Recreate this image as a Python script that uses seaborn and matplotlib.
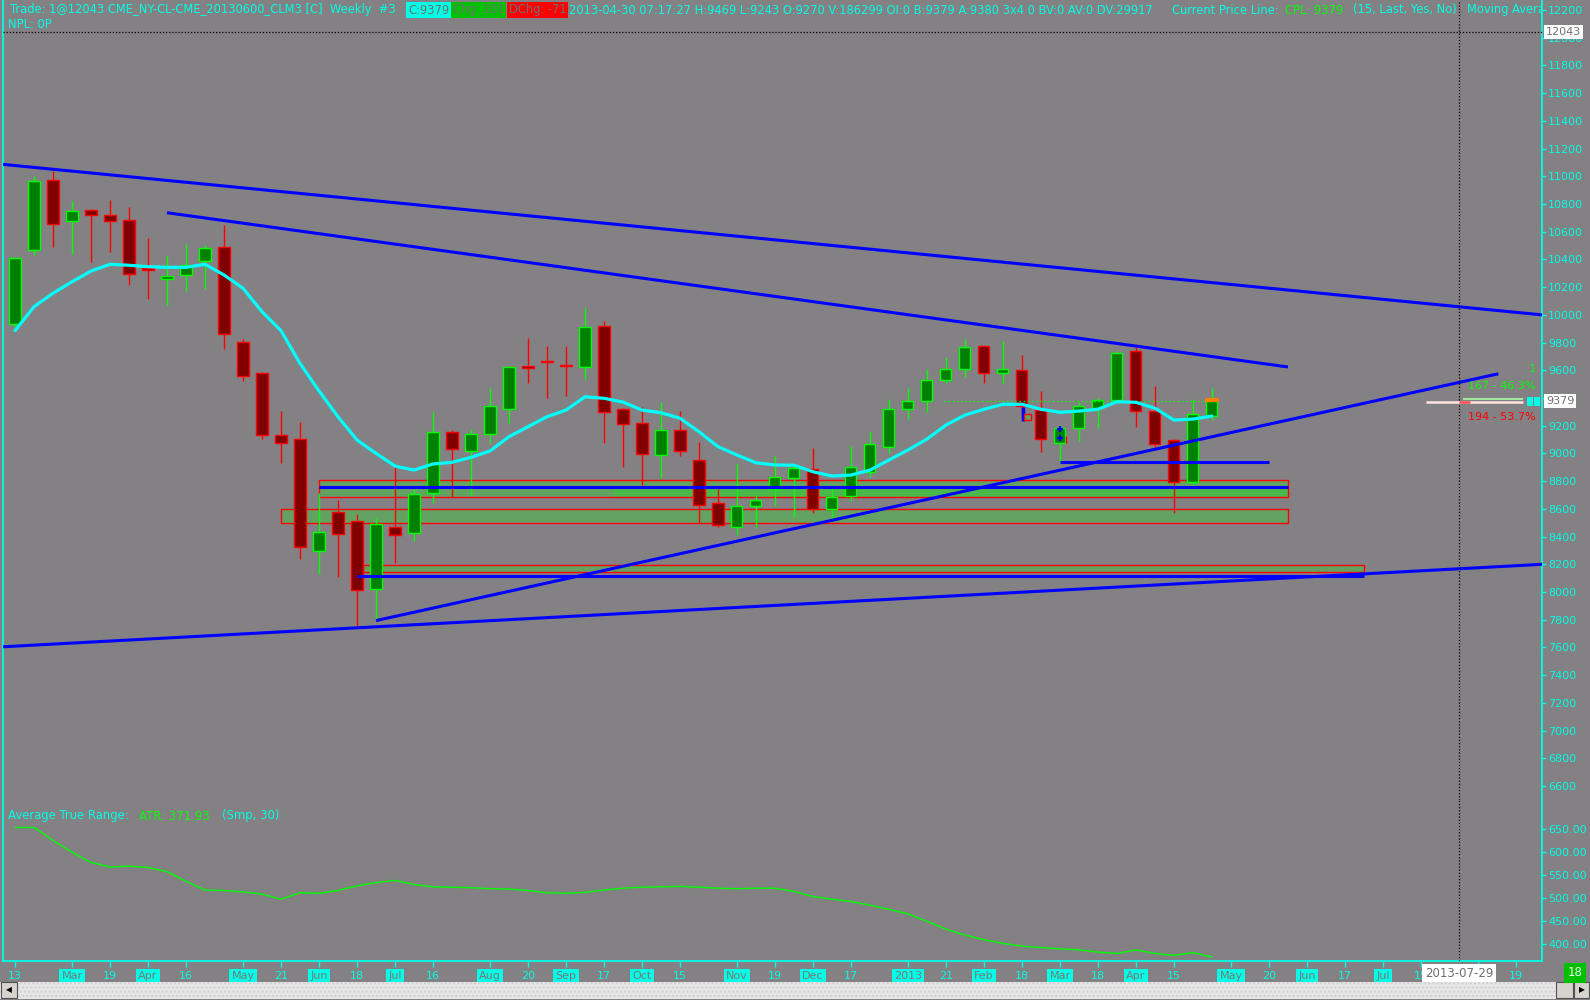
import numpy as np
import pandas as pd
import matplotlib
matplotlib.use('Agg')
import matplotlib.pyplot as plt
import matplotlib.patches as mpatches
import matplotlib.transforms as mtransforms
from matplotlib.ticker import FormatStrFormatter
import seaborn as sns

# ---- data: weekly CLM3 bars (price in 1/100 $), first bar = week of 2012-02-13
week_start = '2012-02-13'
opens = [9932, 10466, 10971, 10675, 10755, 10719, 10682, 10335, 10257, 10286,
         10387, 10492, 9806, 9578, 9131, 9102, 8294, 8575, 8510, 8020,
         8467, 8424, 8712, 9157, 9016, 9138, 9323, 9633, 9667, 9638,
         9626, 9918, 9319, 9218, 8987, 9167, 8951, 8640, 8467, 8619,
         8741, 8821, 8886, 8597, 8691, 8864, 9044, 9319, 9376, 9528,
         9607, 9773, 9578, 9600, 9314, 9073, 9182, 9326, 9386, 9737,
         9304, 9095, 8796, 9270]
highs = [10420, 11002, 11038, 10820, 10762, 10829, 10778, 10555, 10425, 10511,
         10504, 10649, 9825, 9588, 9306, 9227, 8712, 8664, 8563, 8532,
         8900, 8741, 9297, 9169, 9176, 9472, 9631, 9833, 9775, 9775,
         10050, 9956, 9330, 9333, 9371, 9306, 9083, 8746, 8924, 8698,
         8982, 8917, 9039, 8770, 9054, 9153, 9393, 9472, 9609, 9694,
         9824, 9783, 9809, 9710, 9451, 9205, 9372, 9401, 9740, 9771,
         9487, 9105, 9393, 9469]
lows = [9915, 10434, 10492, 10441, 10384, 10456, 10218, 10117, 10073, 10174,
        10189, 9756, 9525, 9102, 8933, 8236, 8128, 8111, 7757, 7794,
        8212, 8370, 8645, 8684, 8698, 9073, 9210, 9511, 9402, 9417,
        9539, 9073, 8900, 8772, 8825, 8984, 8498, 8471, 8409, 8464,
        8623, 8544, 8573, 8525, 8655, 8828, 9005, 9251, 9301, 9506,
        9554, 9511, 9506, 9241, 9013, 8936, 9092, 9182, 9374, 9193,
        9037, 8568, 8772, 9243]
closes = [10408, 10964, 10654, 10747, 10719, 10675, 10293, 10325, 10283, 10362,
          10480, 9862, 9559, 9131, 9073, 8323, 8431, 8417, 8013, 8489,
          8409, 8705, 9157, 9030, 9138, 9340, 9622, 9615, 9658, 9628,
          9910, 9297, 9210, 8994, 9167, 9016, 8626, 8482, 8619, 8662,
          8828, 8893, 8597, 8684, 8900, 9066, 9319, 9376, 9528, 9607,
          9766, 9578, 9607, 9342, 9102, 9186, 9345, 9384, 9723, 9304,
          9066, 8796, 9283, 9379]
moving_avg = [9886, 10059, 10156, 10239, 10316, 10365, 10358, 10348, 10343, 10343,
              10365, 10288, 10192, 10023, 9886, 9650, 9451, 9265, 9097, 9001,
              8909, 8880, 8924, 8936, 8972, 9018, 9121, 9193, 9265, 9313,
              9409, 9398, 9371, 9313, 9294, 9254, 9157, 9049, 8989, 8933,
              8917, 8915, 8868, 8837, 8844, 8880, 8953, 9025, 9104, 9205,
              9277, 9319, 9355, 9355, 9319, 9297, 9306, 9319, 9373, 9369,
              9326, 9241, 9248, 9270]
atr = [654, 654, 626, 600, 578, 568, 570, 567, 558, 537,
       518, 517, 514, 509, 498, 512, 511, 517, 527, 534,
       539, 530, 525, 524, 523, 521, 520, 517, 512, 511,
       513, 518, 522, 524, 525, 526, 524, 522, 521, 522,
       522, 515, 504, 498, 493, 485, 476, 466, 450, 433,
       420, 410, 402, 396, 393, 390, 388, 383, 380, 388,
       380, 376, 382, 372]

tick_dates = ['2012-02-13', '2012-03-05', '2012-03-19', '2012-04-02', '2012-04-16',
              '2012-05-07', '2012-05-21', '2012-06-04', '2012-06-18', '2012-07-02',
              '2012-07-16', '2012-08-06', '2012-08-20', '2012-09-03', '2012-09-17',
              '2012-10-01', '2012-10-15', '2012-11-05', '2012-11-19', '2012-12-03',
              '2012-12-17', '2013-01-07', '2013-01-21', '2013-02-04', '2013-02-18',
              '2013-03-04', '2013-03-18', '2013-04-01', '2013-04-15', '2013-05-06',
              '2013-05-20', '2013-06-03', '2013-06-17', '2013-07-01', '2013-07-15',
              '2013-08-05', '2013-08-19']
tick_labels = ['13', 'Mar', '19', 'Apr', '16', 'May', '21', 'Jun', '18', 'Jul',
               '16', 'Aug', '20', 'Sep', '17', 'Oct', '15', 'Nov', '19', 'Dec',
               '17', '2013', '21', 'Feb', '18', 'Mar', '18', 'Apr', '15', 'May',
               '20', 'Jun', '17', 'Jul', '15', 'Aug', '19']

# drawn trend lines: (week0, price0, week1, price1)
trend_lines = [(-0.63, 11086, 80.37, 10000),
               (8.0, 10737, 67.0, 9624),
               (19.0, 7794, 78.07, 9575),
               (-0.63, 7605, 80.37, 8200),
               (16.0, 8756, 67.0, 8756),
               (18.0, 8116, 71.0, 8116),
               (55.0, 8936, 66.0, 8936)]
# support zones: (week0, week1, low, high)
zones = [(16.0, 67.0, 8684, 8806),
         (14.0, 67.0, 8496, 8597),
         (18.3, 71.0, 8142, 8193)]
trade_price = 12043
cursor_date = '2013-07-29'

# ---- style
BG = '#838183'
CY = '#00ffe6'
sns.set_style('dark', rc={'axes.facecolor': BG, 'figure.facecolor': BG})
plt.rcParams['font.family'] = ['DejaVu Sans']

fig = plt.figure(figsize=(15.9, 10), dpi=100)
W, H = 1590.0, 1000.0
L, R = 3, 1542
ax = fig.add_axes([L / W, 1 - 800 / H, (R - L) / W, 800 / H])
ax2 = fig.add_axes([L / W, 1 - 961 / H, (R - L) / W, 161 / H], sharex=ax)

x = np.arange(len(opens))
o, h, l, c = map(np.array, (opens, highs, lows, closes))
up = c >= o
face = np.where(up, '#008000', '#800000')
edge = np.where(up, '#00ff00', '#ff0000')

for lo_w, hi_w, lo, hi in zones:
    ax.add_patch(mpatches.Rectangle((lo_w, lo), hi_w - lo_w, hi - lo,
                                    facecolor='#64a264', edgecolor='none', zorder=1))
ax.add_patch(mpatches.Rectangle((31.5, 8688), 35.5, 8756 - 8688,
                                facecolor='#4bb84b', edgecolor='none', zorder=1.1))
for lo_w, hi_w, lo, hi in zones:
    ax.add_patch(mpatches.Rectangle((lo_w, lo), hi_w - lo_w, hi - lo,
                                    fill=False, edgecolor='#ff0000', lw=1, zorder=1.2))

ax.vlines(x, l, h, colors=edge, lw=1, zorder=3)
ax.bar(x, np.maximum(np.abs(c - o), 8), bottom=np.minimum(o, c), width=0.58,
       color=face, edgecolor=edge, linewidth=1, zorder=4)

sns.lineplot(x=x, y=moving_avg, ax=ax, color='#00ffff', lw=2.3, zorder=6)

for x0, p0, x1, p1 in trend_lines:
    ax.plot([x0, x1], [p0, p1], color='#0000ff', lw=2.2, zorder=7,
            solid_capstyle='butt')

# current price line, last-bar marker
ax.hlines(c[-1], 48.9, 63.3, colors='#00ff00', linestyles=(0, (1, 2)), lw=1, zorder=5)
ax.hlines(c[-1] + 6, 62.65, 63.35, colors='#ff8000', lw=3, zorder=9)
# small order markers around week 53-55
ax.vlines(53.05, 9237, 9337, colors='#0000ff', lw=2.5, zorder=8)
ax.add_patch(mpatches.Rectangle((53.1, 9240), 0.35, 45, facecolor='#64a264',
                                edgecolor='#ff0000', lw=1, zorder=8))
ax.plot([55, 55], [9174, 9109], ls='none', marker='+', color='#0000ff', ms=5, mew=1.5, zorder=8)
ax.vlines(55.3, 9078, 9126, colors='#ff0000', lw=1, zorder=8)

ax.axhline(trade_price, color='black', ls=(0, (1, 1.5)), lw=0.9, zorder=8)
cursor_x = (pd.Timestamp(cursor_date) - pd.Timestamp(week_start)).days / 7
for a in (ax, ax2):
    a.axvline(cursor_x, color='black', ls=(0, (1, 1.5)), lw=0.9, zorder=8)

# position/profit annotations at right
ax.hlines(9372, 74.26, 79.37, colors='#ffe4e4', lw=1.8, zorder=8)
ax.hlines(9394, 76.2, 79.37, colors='#a8ffa8', lw=1.2, zorder=8)
ax.hlines(9372, 76.0, 76.6, colors='#ff5050', lw=1.8, zorder=9)
ax.add_patch(mpatches.Rectangle((79.6, 9345), 0.3, 65, facecolor=CY, edgecolor='none', zorder=9))
ax.add_patch(mpatches.Rectangle((79.95, 9345), 0.3, 65, facecolor=CY, edgecolor='none', zorder=9))
ax.text(80.05, 9609, '1', color='#00ff00', fontsize=8, ha='right', va='center')
ax.text(80.05, 9489, '167 - 46.3%', color='#00ff00', fontsize=8, ha='right', va='center')
ax.text(80.05, 9261, '194 - 53.7%', color='#ff0000', fontsize=8, ha='right', va='center')

# ATR panel
sns.lineplot(x=x, y=atr, ax=ax2, color='#00ff00', lw=1)

# ---- axes
ax.set_xlim(-0.632, 80.37)
ax.set_ylim(12272.16 - 7.216 * 800, 12272.16)
ax2.set_ylim(363.7, 713.7)
for a in (ax, ax2):
    a.set_facecolor(BG)
    a.grid(False)
    for s in ('top', 'bottom'):
        a.spines[s].set_visible(False)
    for s in ('left', 'right'):
        a.spines[s].set_color(CY)
        a.spines[s].set_linewidth(1.3)
    a.yaxis.tick_right()
    a.tick_params(axis='y', colors=CY, labelsize=8, length=3, width=1, pad=1.5)
    a.set_xlabel('')
    a.set_ylabel('')
ax.set_yticks(np.arange(6600, 12201, 200))
ax.tick_params(axis='x', bottom=False, labelbottom=False)
ax2.set_yticks(np.arange(400, 651, 50))
ax2.yaxis.set_major_formatter(FormatStrFormatter('%.2f'))
ax2.spines['bottom'].set_visible(True)
ax2.spines['bottom'].set_color(CY)
ax2.spines['bottom'].set_linewidth(1.3)

tick_pos = (pd.to_datetime(tick_dates) - pd.Timestamp(week_start)).days / 7
ax2.set_xticks(tick_pos)
ax2.set_xticklabels(tick_labels)
ax2.tick_params(axis='x', colors=CY, labelsize=8, length=4, width=1, pad=3, bottom=True)
for t in ax2.get_xticklabels():
    s = t.get_text()
    if not (s.isdigit() and len(s) <= 2):
        t.set_color('#7a787a')
        t.set_bbox(dict(facecolor=CY, edgecolor='none', pad=1.6))

blend2 = mtransforms.blended_transform_factory(ax2.transData, ax2.transAxes)
ax2.text(cursor_x, -0.075, cursor_date, transform=blend2, ha='center', va='center',
         fontsize=8.5, color='#6e6e6e', zorder=10,
         bbox=dict(facecolor='white', edgecolor='none', boxstyle='square,pad=0.25'))

blend = mtransforms.blended_transform_factory(ax.transAxes, ax.transData)
for val in (trade_price, c[-1]):
    ax.text(1.0025, val, str(val), transform=blend, ha='left', va='center', fontsize=8,
            color='#707070', zorder=10,
            bbox=dict(facecolor='white', edgecolor='none', boxstyle='square,pad=0.2'))

# ---- header texts
def fx(px):
    return px / W

def fy(py):
    return 1 - py / H

hdr = [(10, 'Trade: 1@12043 CME_NY-CL-CME_20130600_CLM3 [C]  Weekly  #3', CY, None),
       (408, 'C:9379', '#707070', CY),
       (453, 'Chg: 101', '#707070', '#00c000'),
       (509, 'DChg: -71', '#707070', '#ff0000'),
       (569, '2013-04-30 07:17:27 H:9469 L:9243 O:9270 V:186299 OI:0 B:9379 A:9380 3x4 0 BV:0 AV:0 DV:29917',
        CY, None),
       (1172, 'Current Price Line:', CY, None),
       (1285, 'CPL: 9379', '#00ff00', None),
       (1353, '(15, Last, Yes, No)', CY, None),
       (1467, 'Moving Average', CY, None)]
for px, s, col, bg in hdr:
    kw = {}
    if bg:
        kw['bbox'] = dict(facecolor=bg, edgecolor='none', boxstyle='square,pad=0.15')
    ax.text(fx(px), fy(10), s, transform=fig.transFigure, color=col, fontsize=8.3,
            ha='left', va='center', clip_on=True, zorder=10, **kw)
ax.text(fx(8), fy(25), 'NPL: 0P', transform=fig.transFigure, color=CY, fontsize=8.3,
        ha='left', va='center')

ax2.text(fx(8), fy(816), 'Average True Range:', transform=fig.transFigure, color=CY,
         fontsize=8.4, ha='left', va='center')
ax2.text(fx(139), fy(816), 'ATR: 371.93', transform=fig.transFigure, color='#00ff00',
         fontsize=8.4, ha='left', va='center')
ax2.text(fx(222), fy(816), '(Smp, 30)', transform=fig.transFigure, color=CY,
         fontsize=8.4, ha='left', va='center')

fig.text(fx(1575), fy(973), '18', color='#e8ffe8', fontsize=8.5, ha='center', va='center',
         bbox=dict(facecolor='#00c000', edgecolor='none', boxstyle='square,pad=0.3'))

# ---- scrollbar
fig.patches.append(mpatches.Rectangle((0, fy(999)), 1, 17 / H, transform=fig.transFigure,
                                      facecolor='#e6e6e6', edgecolor='#cfcfcf', lw=0,
                                      hatch='....', zorder=0))
for x0, x1 in ((1, 17), (1556, 1573), (1574, 1589)):
    fig.patches.append(mpatches.Rectangle((fx(x0), fy(998)), (x1 - x0) / W, 16 / H,
                                          transform=fig.transFigure, facecolor='#d6d3ce',
                                          edgecolor='#505050', lw=0.8, zorder=1))
fig.text(fx(9), fy(990), '\u25c0', fontsize=5.5, ha='center', va='center', color='black')
fig.text(fx(1581.5), fy(990), '\u25b6', fontsize=5.5, ha='center', va='center', color='black')

fig.savefig('out.png', dpi=100, facecolor=BG)
